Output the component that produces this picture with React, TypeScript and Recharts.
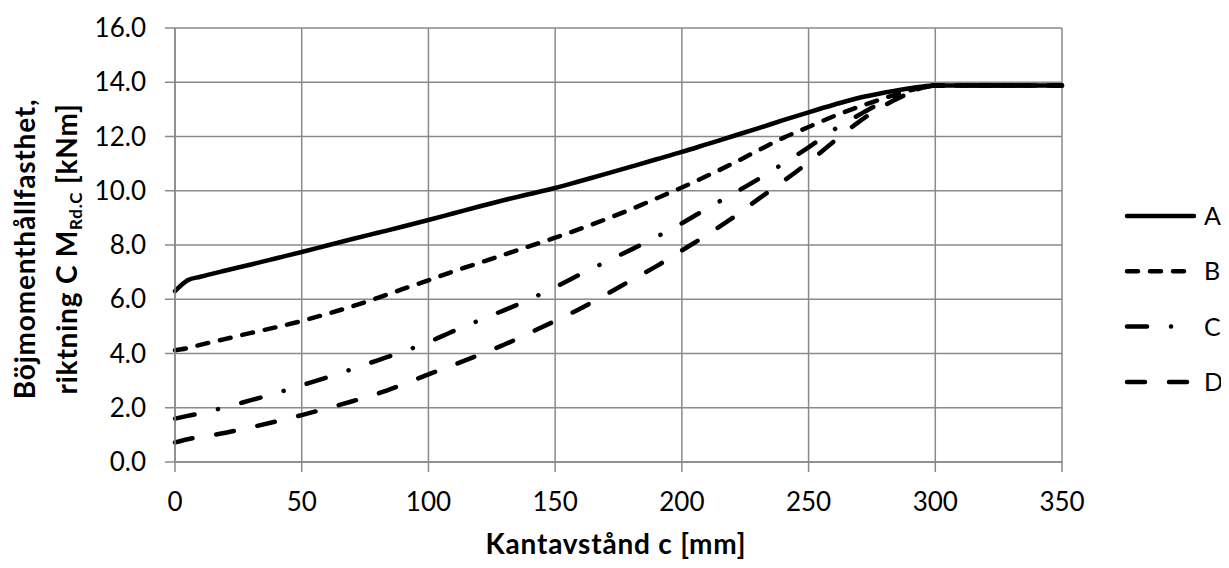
import { LineChart, Line, XAxis, YAxis, CartesianGrid, Legend, Label } from 'recharts';

// #region Data
const xValues = [0, 5, 10, 20, 30, 40, 50, 60, 70, 80, 90, 100, 110, 120, 130, 140, 150, 160, 170, 180, 190, 200, 210, 220, 230, 240, 250, 260, 270, 280, 290, 300, 350];

const seriesA = [6.3, 6.7, 6.83, 7.06, 7.28, 7.51, 7.74, 7.98, 8.22, 8.45, 8.68, 8.92, 9.17, 9.42, 9.66, 9.88, 10.1, 10.36, 10.62, 10.89, 11.16, 11.43, 11.72, 12.01, 12.3, 12.6, 12.89, 13.17, 13.43, 13.62, 13.78, 13.88, 13.88];
const seriesB = [4.12, 4.2, 4.32, 4.54, 4.76, 4.97, 5.2, 5.46, 5.74, 6.05, 6.38, 6.7, 7.03, 7.34, 7.65, 7.96, 8.27, 8.6, 8.95, 9.32, 9.72, 10.12, 10.55, 11.0, 11.48, 11.95, 12.35, 12.75, 13.1, 13.42, 13.7, 13.88, 13.88];
const seriesC = [1.6, 1.7, 1.8, 2.02, 2.28, 2.54, 2.83, 3.12, 3.43, 3.75, 4.07, 4.42, 4.83, 5.22, 5.6, 6.0, 6.45, 6.92, 7.38, 7.83, 8.3, 8.8, 9.35, 9.88, 10.42, 11.0, 11.6, 12.25, 12.8, 13.3, 13.65, 13.88, 13.88];
const seriesD = [0.72, 0.84, 0.92, 1.08, 1.28, 1.5, 1.73, 1.98, 2.24, 2.52, 2.86, 3.23, 3.58, 3.95, 4.33, 4.76, 5.2, 5.66, 6.17, 6.7, 7.22, 7.8, 8.38, 9.0, 9.68, 10.35, 11.05, 11.82, 12.55, 13.15, 13.6, 13.88, 13.88];

const seriesNames = ['A', 'B', 'C', 'D'];
const xTicks = [0, 50, 100, 150, 200, 250, 300, 350];
const yTicks = [0, 2, 4, 6, 8, 10, 12, 14, 16];
// #endregion

const data = xValues.map((x, i) => ({
  x,
  A: seriesA[i],
  B: seriesB[i],
  C: seriesC[i],
  D: seriesD[i],
}));

const FONT = 'Lato, "Open Sans", sans-serif';
const GRID = '#8a8a8a';
const dashes: Record<string, string | undefined> = {
  A: undefined,
  B: '11 12',
  C: '20 24 0.1 24',
  D: '18 24',
};

const YTitle = () => (
  <text transform="translate(27, 241) rotate(-90)" textAnchor="middle" fontFamily={FONT} fontWeight="bold" fontSize={28} letterSpacing={0.8} fill="#000">
    <tspan x={0} y={0}>Böjmomenthållfasthet,</tspan>
    <tspan x={0} y={42}>riktning C M</tspan>
    <tspan fontSize={17} dy={5}>Rd.C</tspan>
    <tspan dy={-5}> [kNm]</tspan>
  </text>
);

const LegendBox = () => (
  <svg width={120} height={230} style={{ overflow: 'visible' }}>
    {seriesNames.map((name, i) => {
      const y = 28 + i * 55.3;
      return (
        <g key={name}>
          <line x1={11} x2={78} y1={y} y2={y} stroke="#000" strokeWidth={4.5} strokeLinecap="round" strokeDasharray={dashes[name]} />
          <text x={88} y={y} dy="0.36em" fontFamily={FONT} fontSize={25} fill="#000">
            {name}
          </text>
        </g>
      );
    })}
  </svg>
);

const App = () => {
  return (
    <LineChart
      width={1221}
      height={560}
      data={data}
      margin={{ top: 20, right: 167, bottom: 46, left: 0 }}
    >
      <CartesianGrid stroke={GRID} strokeWidth={1.5} />
      <XAxis
        dataKey="x"
        type="number"
        domain={[0, 350]}
        ticks={xTicks}
        height={60}
        tickSize={10}
        tickMargin={21}
        stroke={GRID}
        strokeWidth={1.5}
        tick={{ fill: '#000', fontFamily: FONT, fontSize: 26 }}
      >
        <Label
          content={() => (
            <text x={608} y={546} textAnchor="middle" fontFamily={FONT} fontWeight="bold" fontSize={28} letterSpacing={0.8} fill="#000">
              Kantavstånd c [mm]
            </text>
          )}
        />
      </XAxis>
      <YAxis
        type="number"
        domain={[0, 16]}
        ticks={yTicks}
        width={167}
        tickSize={10}
        tickMargin={19}
        stroke={GRID}
        strokeWidth={1.5}
        tickFormatter={(v: number) => v.toFixed(1)}
        tick={{ fill: '#000', fontFamily: FONT, fontSize: 26 }}
      >
        <Label content={() => <YTitle />} />
      </YAxis>
      <Legend
        layout="vertical"
        align="center"
        verticalAlign="middle"
        wrapperStyle={{ left: 1108, top: 180, width: 120 }}
        content={() => <LegendBox />}
      />
      {seriesNames.map((name) => (
        <Line
          key={name}
          type="monotone"
          dataKey={name}
          stroke="#000"
          strokeWidth={4.5}
          strokeLinecap="round"
          strokeDasharray={dashes[name]}
          dot={false}
          activeDot={false}
          isAnimationActive={false}
        />
      ))}
    </LineChart>
  );
};

export default App;
